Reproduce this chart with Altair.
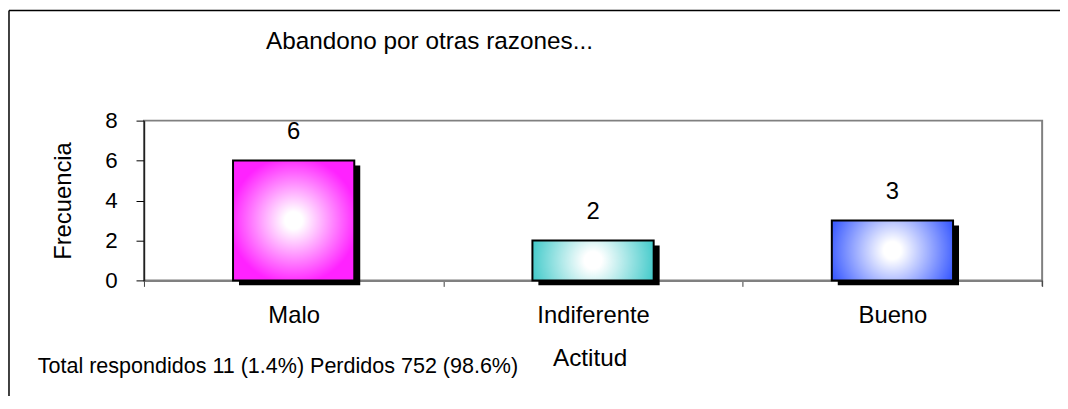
import altair as alt
import pandas as pd

# ---- data ----
categorias = ["Malo", "Indiferente", "Bueno"]
frecuencias = [6, 2, 3]
colores_borde = ["#ff22ff", "#3ec9c9", "#3d5dff"]
y_ticks = [0, 2, 4, 6, 8]

titulo = "Abandono por otras razones..."
nota = "Total respondidos 11 (1.4%) Perdidos 752 (98.6%)"
titulo_x = "Actitud"
titulo_y = "Frecuencia"

FONT = "Liberation Sans"

df = pd.DataFrame({"Actitud": categorias, "Frecuencia": frecuencias})


def grad(c):
    return {
        "gradient": "radial",
        "x1": 0.5, "y1": 0.5, "r1": 0,
        "x2": 0.5, "y2": 0.5, "r2": 0.6,
        "stops": [
            {"offset": 0, "color": "#ffffff"},
            {"offset": 0.12, "color": "#ffffff"},
            {"offset": 0.88, "color": c},
            {"offset": 1, "color": c},
        ],
    }


fill_enc = {
    "condition": [
        {"test": f"datum.Actitud === '{categorias[i]}'", "value": grad(colores_borde[i])}
        for i in range(len(categorias) - 1)
    ],
    "value": grad(colores_borde[-1]),
}

x_enc = alt.X(
    "Actitud:N",
    sort=categorias,
    scale=alt.Scale(paddingInner=0, paddingOuter=0),
    axis=alt.Axis(
        title=titulo_x,
        labelAngle=0,
        tickBand="extent",
        tickSize=6,
        tickColor="#404040",
        domainColor="#808080",
        domainWidth=2,
        labelFont=FONT,
        labelFontSize=24,
        labelColor="black",
        labelBaseline="alphabetic",
        labelPadding=36,
        titleFont=FONT,
        titleFontSize=24.5,
        titleFontWeight="normal",
        titleColor="black",
        titleBaseline="alphabetic",
        titleX=449,
        titleY=86,
        grid=False,
    ),
)
y_enc = alt.Y(
    "Frecuencia:Q",
    scale=alt.Scale(domain=[0, 8], nice=False),
    axis=alt.Axis(
        title=titulo_y,
        values=y_ticks,
        tickSize=8,
        tickColor="black",
        domainColor="#202020",
        domainWidth=1.5,
        labelFont=FONT,
        labelFontSize=22.5,
        labelColor="black",
        labelPadding=19,
        titleFont=FONT,
        titleFontSize=24,
        titleFontWeight="normal",
        titleColor="black",
        titleAngle=-90,
        titleAlign="center",
        titleBaseline="alphabetic",
        titleX=-74,
        titleY=80.5,
        grid=False,
    ),
)

base = alt.Chart(df)

sombra = base.mark_bar(
    color="black", width={"band": 0.405}, xOffset=6, yOffset=5
).encode(x=x_enc, y=y_enc)

barras = base.mark_bar(
    width={"band": 0.405}, stroke="black", strokeWidth=2
).encode(x=x_enc, y=y_enc, fill=fill_enc)

etiquetas = base.mark_text(
    font=FONT, fontSize=24, color="black", baseline="alphabetic", dy=-22
).encode(x=x_enc, y=y_enc, text="Frecuencia:Q")

one = pd.DataFrame({"t": [titulo]})
tit = alt.Chart(one).mark_text(
    font=FONT, fontSize=24.5, color="black", align="left", baseline="alphabetic"
).encode(x=alt.value(123), y=alt.value(-72), text="t:N")

one2 = pd.DataFrame({"t": [nota]})
pie = alt.Chart(one2).mark_text(
    font=FONT, fontSize=21.7, color="black", align="left", baseline="alphabetic"
).encode(x=alt.value(-107), y=alt.value(254), text="t:N")

marco = pd.DataFrame({"k": [0]})
borde_sup = alt.Chart(marco).mark_rule(color="black", strokeWidth=1.5).encode(
    x=alt.value(-136), x2=alt.value(930), y=alt.value(-111)
)
borde_izq = alt.Chart(marco).mark_rule(color="black", strokeWidth=1.5).encode(
    x=alt.value(-136), y=alt.value(-111), y2=alt.value(300)
)
tick_fin = alt.Chart(marco).mark_rule(color="#404040", strokeWidth=1).encode(
    x=alt.value(905), y=alt.value(161), y2=alt.value(167)
)

chart = (
    alt.layer(sombra, barras, etiquetas, tit, pie, borde_sup, borde_izq, tick_fin)
    .properties(
        width=905,
        height=161,
        padding={"left": 137, "top": 112, "right": 18, "bottom": 115},
        autosize=alt.AutoSizeParams(type="none"),
        background="white",
    )
    .configure_view(stroke="#808080", strokeWidth=2)
)

chart.save("out.html", embed_options={"renderer": "svg", "actions": False})
